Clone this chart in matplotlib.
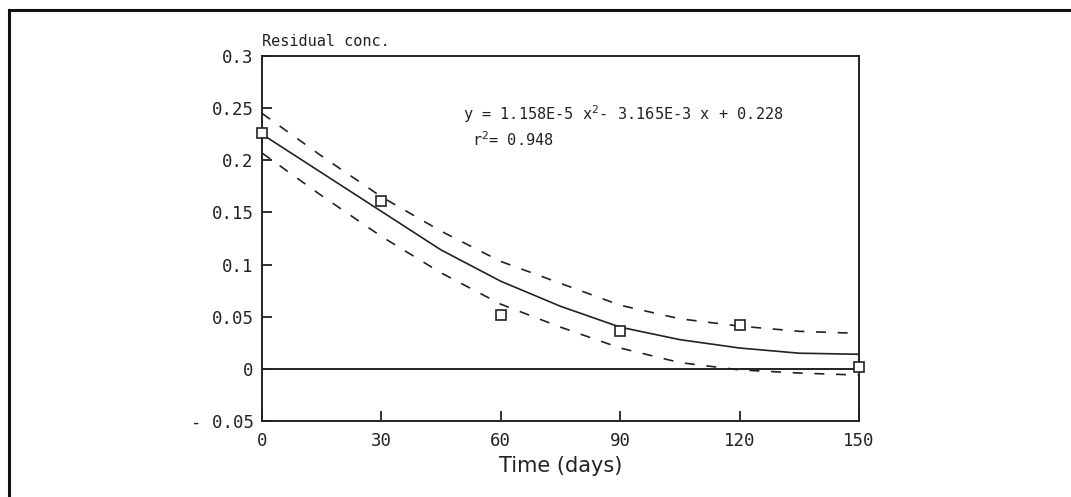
import matplotlib
matplotlib.use("Agg")
from matplotlib import pyplot as plt
from matplotlib.lines import Line2D

# data
days = [0, 30, 60, 90, 120, 150]
residual = [0.226, 0.161, 0.052, 0.036, 0.042, 0.002]

fit_days = [0, 15, 30, 45, 60, 75, 90, 105, 120, 135, 150]
fit = [0.225, 0.188, 0.151, 0.114, 0.084, 0.060, 0.040, 0.028, 0.020, 0.015, 0.014]
upper = [0.245, 0.204, 0.165, 0.132, 0.103, 0.082, 0.061, 0.048, 0.041, 0.036, 0.034]
lower = [0.207, 0.166, 0.127, 0.092, 0.062, 0.040, 0.020, 0.006, -0.001, -0.004, -0.006]

xticks = [0, 30, 60, 90, 120, 150]
yticks = [-0.05, 0, 0.05, 0.1, 0.15, 0.2, 0.25, 0.3]
ytick_labels = ['- 0.05', '0', '0.05', '0.1', '0.15', '0.2', '0.25', '0.3']

plt.rcParams['font.family'] = ['DejaVu Sans Mono', 'DejaVu Sans']
plt.rcParams['mathtext.fontset'] = 'dejavusans'

fig = plt.figure(figsize=(10.71, 4.97), dpi=100)
ax = fig.add_axes([262/1071, 1-421/497, (859-262)/1071, (421-56)/497])

ax.axhline(0, color='#222', lw=1.4)
ax.plot(fit_days, fit, color='#222', lw=1.2)
ax.plot(fit_days, upper, color='#222', lw=1.2, dashes=(6, 7))
ax.plot(fit_days, lower, color='#222', lw=1.2, dashes=(6, 7))
ax.plot(days, residual, ls='none', marker='s', ms=7.5, mfc='white', mec='#222', mew=1.2, clip_on=False, zorder=5)

ax.set_xlim(0, 150)
ax.set_ylim(-0.05, 0.3)
ax.set_xticks(xticks)
ax.set_xticklabels([str(t) for t in xticks])
ax.set_yticks(yticks)
ax.set_yticklabels(ytick_labels)
ax.tick_params(direction='in', length=7, width=1.3, labelsize=12.5, colors='#222')
ax.tick_params(axis='x', pad=8)
ax.tick_params(axis='y', pad=6)
for s in ax.spines.values():
    s.set_linewidth(1.4)
    s.set_color('#222')

ax.set_xlabel('Time (days)', fontsize=15, family='DejaVu Sans', color='#222', labelpad=4)
ax.text(0.0, 1.02, 'Residual conc.', transform=ax.transAxes, fontsize=11, ha='left', va='bottom', color='#222')

ax.text(50.4, 0.244, r'y = 1.158E-5 x$^{2}$- 3.165E-3 x + 0.228', fontsize=11, va='center', color='#222')
ax.text(52.7, 0.22, r'r$^{2}$= 0.948', fontsize=11, va='center', color='#222')

# outer frame of the scanned figure
fig.add_artist(Line2D([9/1071, 9/1071], [0, 1-10/497], transform=fig.transFigure, color='#111', lw=2.2))
fig.add_artist(Line2D([9/1071, 1], [1-10/497, 1-10/497], transform=fig.transFigure, color='#111', lw=2.2))

fig.savefig('out.png', dpi=100)
